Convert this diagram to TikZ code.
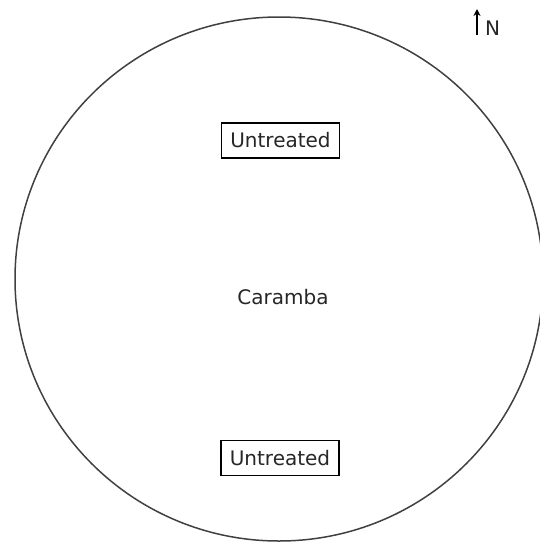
\documentclass[tikz,border=0pt]{standalone}
\usepackage{fontspec}
\setmainfont{DejaVu Sans}
\usetikzlibrary{arrows.meta}
\tikzset{
  label text/.style={font=\fontsize{20}{24}\selectfont, text=black!85},
  plotbox/.style={draw=black, line width=1.5pt, minimum width=118pt, minimum height=35pt, inner sep=0pt, label text},
  boundary/.style={draw=black!75, line width=1.5pt},
}
\begin{document}
\begin{tikzpicture}[x=1pt, y=-1pt]
  \useasboundingbox (0,0) rectangle (540,542);
  % field boundary
  \draw[boundary] (279,279) ellipse [x radius=264, y radius=262];
  % plot labels
  \node[label text] (field) at (283,297) {Caramba};
  \node[plotbox] (north plot) at (280.5,140.5) {Untreated};
  \node[plotbox] (south plot) at (280,458) {Untreated};
  % north arrow
  \coordinate (arrow base) at (477,35);
  \coordinate (arrow tip) at (477,9);
  \draw[line width=1.4pt, -{Stealth[length=7pt, width=7pt]}] (arrow base) -- (arrow tip);
  \node[label text, anchor=base west, inner sep=0pt] (north) at (485,35) {N};
\end{tikzpicture}
\end{document}
